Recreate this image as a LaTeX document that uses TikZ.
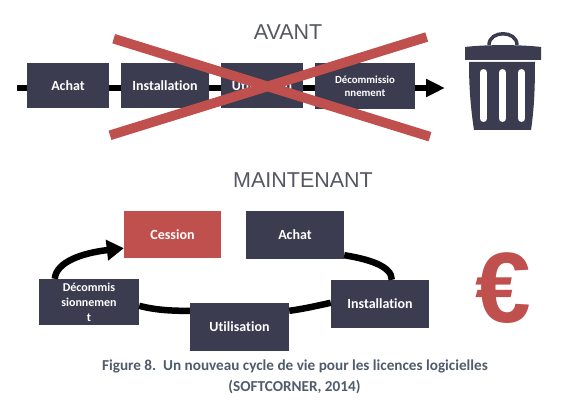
\documentclass[tikz,border=0pt]{standalone}
\usepackage{fontspec}
\usepackage{xcolor}
\usetikzlibrary{calc,arrows.meta}
\setmainfont[Ligatures=NoCommon]{Carlito}
\newfontfamily\titlefont{Liberation Sans}
\newfontfamily\eurofont{Liberation Sans}
\definecolor{boxNavy}{RGB}{60,60,80}
\definecolor{crossRed}{RGB}{192,80,77}
\definecolor{titleGrey}{RGB}{85,88,98}
\definecolor{captionGrey}{RGB}{80,92,108}
\tikzset{
  stepbox/.style={draw=none,fill=boxNavy,text=white,font=\bfseries\fontsize{14}{17}\selectfont,align=center,inner sep=0pt},
  smallstep/.style={stepbox,font=\bfseries\fontsize{10.8}{13}\selectfont},
  flow/.style={line width=6.5pt},
  bigtitle/.style={text=titleGrey,font=\titlefont\fontsize{21.5}{24}\selectfont,inner sep=0pt},
  strike/.style={draw=crossRed,line width=9.7pt},
  caption/.style={text=captionGrey,font=\bfseries\fontsize{15.2}{18}\selectfont,inner sep=0pt}
}

\begin{document}
\begin{tikzpicture}[x=1pt,y=-1pt]
\useasboundingbox (0,0) rectangle (566,401);
\fill[white] (0,0) rectangle (566,401);

% avant
\node[bigtitle] (avantTitle) at (288,32) {AVANT};
\coordinate (lineStart) at (17,88);
\coordinate (lineEnd) at (445,88);
\draw[flow,-{Triangle[length=19pt,width=17pt]}] (lineStart) -- (lineEnd);
\node[stepbox,minimum width=82pt,minimum height=45pt] (achatTop) at (68,85.5) {Achat};
\node[stepbox,minimum width=88pt,minimum height=45pt] (installTop) at (165,85.5) {Installation};
\node[stepbox,minimum width=82pt,minimum height=45pt] (utilTop) at (262,85.5) {Utilisation};
\node[smallstep,minimum width=100pt,minimum height=46pt] (decomTop) at (365,86) {Décommissio\\nnement};
\coordinate (crossA) at (113.7,38.7);
\coordinate (crossB) at (430,136.7);
\coordinate (crossC) at (110,135.3);
\coordinate (crossD) at (426.7,37);
\draw[strike] (crossA) -- (crossB);
\draw[strike] (crossC) -- (crossD);

% poubelle
\fill[boxNavy] (465,47) .. controls (485,44.5) and (521,44.5) .. (541,47) -- (541,60) -- (465,60) -- cycle;
\draw[boxNavy,line width=3.5pt] (489,45) .. controls (489,30) and (517,30) .. (517,45);
\fill[boxNavy] (469,62) -- (535,62) .. controls (535,90) and (534,110) .. (531,130) -- (474,130) .. controls (471,110) and (469,90) .. (469,62) -- cycle;
\foreach \slotx in {483.5,502.5,521.5}
  \draw[white,line width=7pt,line cap=round] (\slotx,72.5) -- (\slotx,118.5);

% maintenant
\node[bigtitle] (mainTitle) at (303,180) {MAINTENANT};
\node[stepbox,fill=crossRed,minimum width=97pt,minimum height=47pt] (cession) at (172.5,234.5) {Cession};
\node[stepbox,minimum width=98pt,minimum height=48pt] (achatBot) at (295,235) {Achat};
\node[stepbox,minimum width=98pt,minimum height=48pt] (installBot) at (380,304) {Installation};
\node[stepbox,minimum width=99pt,minimum height=48pt] (utilBot) at (239.5,327) {Utilisation};
\node[smallstep,font=\bfseries\fontsize{12}{15}\selectfont,minimum width=100pt,minimum height=46pt] (decomBot) at (89,302) {Décommis\\sionnemen\\t};

\draw[flow] ($(achatBot.south east)+(0,-4)$) .. controls (368,259) and (392,266) .. ($(installBot.north west)+(61,0)$);
\draw[flow] ($(installBot.north west)+(0,23)$) .. controls (316,306) and (303,309) .. ($(utilBot.north east)+(0,8)$);
\draw[flow] ($(utilBot.north west)+(0,8)$) .. controls (172,311) and (155,310) .. ($(decomBot.north east)+(0,27)$);
\draw[flow,-{Triangle[length=17pt,width=20pt]}] ($(decomBot.north west)+(16,0)$) .. controls (56,262) and (82,253) .. ($(cession.south west)+(0,-10)$);

\node[text=crossRed,font=\eurofont\bfseries\fontsize{100}{100}\selectfont,inner sep=0pt] (euro) at (503,288) {€};

\node[caption] (captionA) at (295,366) {Figure 8.\ \ Un nouveau cycle de vie pour les licences logicielles};
\node[caption] (captionB) at (294.5,387) {(SOFTCORNER, 2014)};
\end{tikzpicture}
\end{document}
